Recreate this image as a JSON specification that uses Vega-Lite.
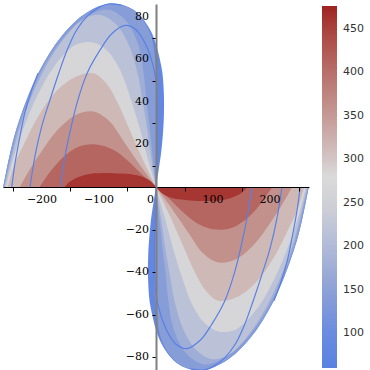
{
  "$schema": "https://vega.github.io/schema/vega-lite/v6.json",
  "width": 306,
  "height": 366,
  "autosize": {"type": "none"},
  "padding": {"left": 3, "top": 4, "right": 61, "bottom": 0},
  "config": {"view": {"stroke": null}},
  "datasets": {
    "shapes": [
      {"s":"U8","lv":85,"x":0,"y":0},{"s":"U8","lv":85,"x":9.4,"y":17},{"s":"U8","lv":85,"x":13.7,"y":32.2},{"s":"U8","lv":85,"x":13.6,"y":45.3},{"s":"U8","lv":85,"x":9.4,"y":56.7},{"s":"U8","lv":85,"x":-9.7,"y":73.7},{"s":"U8","lv":85,"x":-40.2,"y":83.5},{"s":"U8","lv":85,"x":-78.5,"y":86.3},{"s":"U8","lv":85,"x":-121.3,"y":82.1},{"s":"U8","lv":85,"x":-165,"y":71.2},{"s":"U8","lv":85,"x":-206.3,"y":53.7},{"s":"U8","lv":85,"x":-241.8,"y":29.9},{"s":"U8","lv":85,"x":-256.2,"y":15.7},{"s":"U8","lv":85,"x":-268,"y":0},
      {"s":"L8","lv":85,"x":0,"y":0},{"s":"L8","lv":85,"x":-9.4,"y":-17},{"s":"L8","lv":85,"x":-13.7,"y":-32.2},{"s":"L8","lv":85,"x":-13.6,"y":-45.3},{"s":"L8","lv":85,"x":-9.4,"y":-56.7},{"s":"L8","lv":85,"x":9.7,"y":-73.7},{"s":"L8","lv":85,"x":40.2,"y":-83.5},{"s":"L8","lv":85,"x":78.5,"y":-86.3},{"s":"L8","lv":85,"x":121.3,"y":-82.1},{"s":"L8","lv":85,"x":165,"y":-71.2},{"s":"L8","lv":85,"x":206.3,"y":-53.7},{"s":"L8","lv":85,"x":241.8,"y":-29.9},{"s":"L8","lv":85,"x":256.2,"y":-15.7},{"s":"L8","lv":85,"x":268,"y":0},
      {"s":"U7","lv":140,"x":0,"y":0},{"s":"U7","lv":140,"x":1.5,"y":17},{"s":"U7","lv":140,"x":3,"y":32},{"s":"U7","lv":140,"x":3,"y":45},{"s":"U7","lv":140,"x":0,"y":56},{"s":"U7","lv":140,"x":-11,"y":72.8},{"s":"U7","lv":140,"x":-40.2,"y":83.3},{"s":"U7","lv":140,"x":-78.5,"y":86.1},{"s":"U7","lv":140,"x":-121.3,"y":81.9},{"s":"U7","lv":140,"x":-165,"y":71},{"s":"U7","lv":140,"x":-206,"y":53.6},{"s":"U7","lv":140,"x":-241.5,"y":29.8},{"s":"U7","lv":140,"x":-256,"y":15.6},{"s":"U7","lv":140,"x":-267.8,"y":0},
      {"s":"L7","lv":140,"x":0,"y":0},{"s":"L7","lv":140,"x":-1.5,"y":-17},{"s":"L7","lv":140,"x":-3,"y":-32},{"s":"L7","lv":140,"x":-3,"y":-45},{"s":"L7","lv":140,"x":0,"y":-56},{"s":"L7","lv":140,"x":11,"y":-72.8},{"s":"L7","lv":140,"x":40.2,"y":-83.3},{"s":"L7","lv":140,"x":78.5,"y":-86.1},{"s":"L7","lv":140,"x":121.3,"y":-81.9},{"s":"L7","lv":140,"x":165,"y":-71},{"s":"L7","lv":140,"x":206,"y":-53.6},{"s":"L7","lv":140,"x":241.5,"y":-29.8},{"s":"L7","lv":140,"x":256,"y":-15.6},{"s":"L7","lv":140,"x":267.8,"y":0},
      {"s":"U6b","lv":175,"x":0,"y":0},{"s":"U6b","lv":175,"x":-6,"y":15},{"s":"U6b","lv":175,"x":-12,"y":30},{"s":"U6b","lv":175,"x":-17,"y":41},{"s":"U6b","lv":175,"x":-21,"y":52},{"s":"U6b","lv":175,"x":-30,"y":66},{"s":"U6b","lv":175,"x":-52,"y":78},{"s":"U6b","lv":175,"x":-85,"y":83.5},{"s":"U6b","lv":175,"x":-125,"y":79.5},{"s":"U6b","lv":175,"x":-166,"y":69},{"s":"U6b","lv":175,"x":-206,"y":52},{"s":"U6b","lv":175,"x":-240,"y":29},{"s":"U6b","lv":175,"x":-254,"y":15},{"s":"U6b","lv":175,"x":-266.5,"y":0},
      {"s":"L6b","lv":175,"x":0,"y":0},{"s":"L6b","lv":175,"x":6,"y":-15},{"s":"L6b","lv":175,"x":12,"y":-30},{"s":"L6b","lv":175,"x":17,"y":-41},{"s":"L6b","lv":175,"x":21,"y":-52},{"s":"L6b","lv":175,"x":30,"y":-66},{"s":"L6b","lv":175,"x":52,"y":-78},{"s":"L6b","lv":175,"x":85,"y":-83.5},{"s":"L6b","lv":175,"x":125,"y":-79.5},{"s":"L6b","lv":175,"x":166,"y":-69},{"s":"L6b","lv":175,"x":206,"y":-52},{"s":"L6b","lv":175,"x":240,"y":-29},{"s":"L6b","lv":175,"x":254,"y":-15},{"s":"L6b","lv":175,"x":266.5,"y":0},
      {"s":"U6","lv":215,"x":0,"y":0},{"s":"U6","lv":215,"x":-9,"y":15},{"s":"U6","lv":215,"x":-17,"y":30},{"s":"U6","lv":215,"x":-24,"y":41},{"s":"U6","lv":215,"x":-32,"y":53},{"s":"U6","lv":215,"x":-48,"y":67},{"s":"U6","lv":215,"x":-72,"y":77},{"s":"U6","lv":215,"x":-100,"y":81},{"s":"U6","lv":215,"x":-130,"y":78.5},{"s":"U6","lv":215,"x":-168,"y":67.5},{"s":"U6","lv":215,"x":-205,"y":50.5},{"s":"U6","lv":215,"x":-238,"y":28.5},{"s":"U6","lv":215,"x":-252,"y":15},{"s":"U6","lv":215,"x":-265.5,"y":0},
      {"s":"L6","lv":215,"x":0,"y":0},{"s":"L6","lv":215,"x":9,"y":-15},{"s":"L6","lv":215,"x":17,"y":-30},{"s":"L6","lv":215,"x":24,"y":-41},{"s":"L6","lv":215,"x":32,"y":-53},{"s":"L6","lv":215,"x":48,"y":-67},{"s":"L6","lv":215,"x":72,"y":-77},{"s":"L6","lv":215,"x":100,"y":-81},{"s":"L6","lv":215,"x":130,"y":-78.5},{"s":"L6","lv":215,"x":168,"y":-67.5},{"s":"L6","lv":215,"x":205,"y":-50.5},{"s":"L6","lv":215,"x":238,"y":-28.5},{"s":"L6","lv":215,"x":252,"y":-15},{"s":"L6","lv":215,"x":265.5,"y":0},
      {"s":"U5","lv":265,"x":0,"y":0},{"s":"U5","lv":265,"x":-15,"y":14},{"s":"U5","lv":265,"x":-30,"y":29},{"s":"U5","lv":265,"x":-45,"y":42},{"s":"U5","lv":265,"x":-63,"y":55},{"s":"U5","lv":265,"x":-85,"y":64},{"s":"U5","lv":265,"x":-110,"y":68},{"s":"U5","lv":265,"x":-140,"y":67},{"s":"U5","lv":265,"x":-175,"y":58},{"s":"U5","lv":265,"x":-208,"y":43},{"s":"U5","lv":265,"x":-236,"y":25},{"s":"U5","lv":265,"x":-252,"y":12},{"s":"U5","lv":265,"x":-263,"y":0},
      {"s":"L5","lv":265,"x":0,"y":0},{"s":"L5","lv":265,"x":15,"y":-14},{"s":"L5","lv":265,"x":30,"y":-29},{"s":"L5","lv":265,"x":45,"y":-42},{"s":"L5","lv":265,"x":63,"y":-55},{"s":"L5","lv":265,"x":85,"y":-64},{"s":"L5","lv":265,"x":110,"y":-68},{"s":"L5","lv":265,"x":140,"y":-67},{"s":"L5","lv":265,"x":175,"y":-58},{"s":"L5","lv":265,"x":208,"y":-43},{"s":"L5","lv":265,"x":236,"y":-25},{"s":"L5","lv":265,"x":252,"y":-12},{"s":"L5","lv":265,"x":263,"y":0},
      {"s":"U4","lv":315,"x":0,"y":0},{"s":"U4","lv":315,"x":-25,"y":14},{"s":"U4","lv":315,"x":-48,"y":28},{"s":"U4","lv":315,"x":-68,"y":40},{"s":"U4","lv":315,"x":-88,"y":49},{"s":"U4","lv":315,"x":-110,"y":53.5},{"s":"U4","lv":315,"x":-140,"y":52},{"s":"U4","lv":315,"x":-175,"y":45},{"s":"U4","lv":315,"x":-207,"y":33},{"s":"U4","lv":315,"x":-232,"y":20},{"s":"U4","lv":315,"x":-249,"y":10},{"s":"U4","lv":315,"x":-260,"y":0},
      {"s":"L4","lv":315,"x":0,"y":0},{"s":"L4","lv":315,"x":25,"y":-14},{"s":"L4","lv":315,"x":48,"y":-28},{"s":"L4","lv":315,"x":68,"y":-40},{"s":"L4","lv":315,"x":88,"y":-49},{"s":"L4","lv":315,"x":110,"y":-53.5},{"s":"L4","lv":315,"x":140,"y":-52},{"s":"L4","lv":315,"x":175,"y":-45},{"s":"L4","lv":315,"x":207,"y":-33},{"s":"L4","lv":315,"x":232,"y":-20},{"s":"L4","lv":315,"x":249,"y":-10},{"s":"L4","lv":315,"x":260,"y":0},
      {"s":"U3","lv":360,"x":0,"y":0},{"s":"U3","lv":360,"x":-30,"y":11},{"s":"U3","lv":360,"x":-58,"y":22},{"s":"U3","lv":360,"x":-82,"y":31},{"s":"U3","lv":360,"x":-110,"y":35.5},{"s":"U3","lv":360,"x":-140,"y":34},{"s":"U3","lv":360,"x":-172,"y":27},{"s":"U3","lv":360,"x":-200,"y":17},{"s":"U3","lv":360,"x":-222,"y":8},{"s":"U3","lv":360,"x":-239,"y":0},
      {"s":"L3","lv":360,"x":0,"y":0},{"s":"L3","lv":360,"x":30,"y":-11},{"s":"L3","lv":360,"x":58,"y":-22},{"s":"L3","lv":360,"x":82,"y":-31},{"s":"L3","lv":360,"x":110,"y":-35.5},{"s":"L3","lv":360,"x":140,"y":-34},{"s":"L3","lv":360,"x":172,"y":-27},{"s":"L3","lv":360,"x":200,"y":-17},{"s":"L3","lv":360,"x":222,"y":-8},{"s":"L3","lv":360,"x":239,"y":0},
      {"s":"U2","lv":410,"x":0,"y":0},{"s":"U2","lv":410,"x":-25,"y":6},{"s":"U2","lv":410,"x":-50,"y":12.5},{"s":"U2","lv":410,"x":-75,"y":17.5},{"s":"U2","lv":410,"x":-105,"y":20},{"s":"U2","lv":410,"x":-135,"y":19},{"s":"U2","lv":410,"x":-163,"y":14},{"s":"U2","lv":410,"x":-186,"y":7},{"s":"U2","lv":410,"x":-204,"y":0},
      {"s":"L2","lv":410,"x":0,"y":0},{"s":"L2","lv":410,"x":25,"y":-6},{"s":"L2","lv":410,"x":50,"y":-12.5},{"s":"L2","lv":410,"x":75,"y":-17.5},{"s":"L2","lv":410,"x":105,"y":-20},{"s":"L2","lv":410,"x":135,"y":-19},{"s":"L2","lv":410,"x":163,"y":-14},{"s":"L2","lv":410,"x":186,"y":-7},{"s":"L2","lv":410,"x":204,"y":0},
      {"s":"U1","lv":460,"x":0,"y":0},{"s":"U1","lv":460,"x":-10,"y":2.8},{"s":"U1","lv":460,"x":-28,"y":5.2},{"s":"U1","lv":460,"x":-60,"y":6.3},{"s":"U1","lv":460,"x":-95,"y":6.6},{"s":"U1","lv":460,"x":-120,"y":6},{"s":"U1","lv":460,"x":-140,"y":4.2},{"s":"U1","lv":460,"x":-152,"y":2.3},{"s":"U1","lv":460,"x":-160,"y":0},
      {"s":"L1","lv":460,"x":0,"y":0},{"s":"L1","lv":460,"x":10,"y":-2.8},{"s":"L1","lv":460,"x":28,"y":-5.2},{"s":"L1","lv":460,"x":60,"y":-6.3},{"s":"L1","lv":460,"x":95,"y":-6.6},{"s":"L1","lv":460,"x":120,"y":-6},{"s":"L1","lv":460,"x":140,"y":-4.2},{"s":"L1","lv":460,"x":152,"y":-2.3},{"s":"L1","lv":460,"x":160,"y":0}
    ],
    "lines": [
      {"c":"A","x":-168,"y":0},{"c":"A","x":-160,"y":14},{"c":"A","x":-150,"y":27},{"c":"A","x":-137,"y":41},{"c":"A","x":-120,"y":54},{"c":"A","x":-98,"y":64.5},{"c":"A","x":-78,"y":72},{"c":"A","x":-54,"y":76},{"c":"A","x":-35,"y":74},{"c":"A","x":-18,"y":67},{"c":"A","x":-5,"y":57},{"c":"A","x":1,"y":48},{"c":"A","x":2.5,"y":35},{"c":"A","x":2,"y":20},{"c":"A","x":1,"y":8},{"c":"A","x":0,"y":0},
      {"c":"B","x":-221,"y":0},{"c":"B","x":-212,"y":15},{"c":"B","x":-200,"y":29},{"c":"B","x":-186,"y":41},{"c":"B","x":-170,"y":54},{"c":"B","x":-155,"y":65},{"c":"B","x":-139,"y":74},{"c":"B","x":-120,"y":80.5},{"c":"B","x":-100,"y":84.5},{"c":"B","x":-84,"y":86.1},{"c":"B","x":-60,"y":85.5},
      {"c":"C","x":-253,"y":0},{"c":"C","x":-248,"y":10},{"c":"C","x":-240,"y":22},{"c":"C","x":-230,"y":35},{"c":"C","x":-220,"y":44},{"c":"C","x":-207,"y":53.5},
      {"c":"A2","x":168,"y":0},{"c":"A2","x":160,"y":-14},{"c":"A2","x":150,"y":-27},{"c":"A2","x":137,"y":-41},{"c":"A2","x":120,"y":-54},{"c":"A2","x":98,"y":-64.5},{"c":"A2","x":78,"y":-72},{"c":"A2","x":54,"y":-76},{"c":"A2","x":35,"y":-74},{"c":"A2","x":18,"y":-67},{"c":"A2","x":5,"y":-57},{"c":"A2","x":-1,"y":-48},{"c":"A2","x":-2.5,"y":-35},{"c":"A2","x":-2,"y":-20},{"c":"A2","x":-1,"y":-8},{"c":"A2","x":0,"y":0},
      {"c":"B2","x":221,"y":0},{"c":"B2","x":212,"y":-15},{"c":"B2","x":200,"y":-29},{"c":"B2","x":186,"y":-41},{"c":"B2","x":170,"y":-54},{"c":"B2","x":155,"y":-65},{"c":"B2","x":139,"y":-74},{"c":"B2","x":120,"y":-80.5},{"c":"B2","x":100,"y":-84.5},{"c":"B2","x":84,"y":-86.1},{"c":"B2","x":60,"y":-85.5},
      {"c":"C2","x":253,"y":0},{"c":"C2","x":248,"y":-10},{"c":"C2","x":240,"y":-22},{"c":"C2","x":230,"y":-35},{"c":"C2","x":220,"y":-44},{"c":"C2","x":207,"y":-53.5}
    ],
    "xlab": [{"v":-200,"t":"−200"},{"v":-100,"t":"−100"},{"v":100,"t":"100"},{"v":200,"t":"200"}],
    "zlab": [{"v":0,"t":"0"}],
    "ylab": [{"v":80,"t":"80"},{"v":60,"t":"60"},{"v":40,"t":"40"},{"v":20,"t":"20"},{"v":-20,"t":"−20"},{"v":-40,"t":"−40"},{"v":-60,"t":"−60"},{"v":-80,"t":"−80"}]
  },
  "layer": [
    {
      "data": {"name": "shapes"},
      "mark": {"type": "line", "filled": true, "interpolate": "catmull-rom"},
      "encoding": {
        "x": {"field": "x", "type": "quantitative", "scale": {"domain": [-268.4, 268.4], "nice": false, "zero": false},
          "axis": {"orient": "bottom", "offset": -183, "title": null, "zindex": 2, "grid": false, "labels": false,
            "values": [-250,-200,-150,-100,-50,0,50,100,150,200,250],
            "domainColor": "#000", "domainWidth": 1, "tickColor": "#000", "tickSize": 4}},
        "y": {"field": "y", "type": "quantitative", "scale": {"domain": [-86.1, 86.1], "nice": false, "zero": false},
          "axis": {"orient": "left", "offset": -153, "title": null, "zindex": 2, "grid": false, "labels": false,
            "values": [-80,-70,-60,-50,-40,-30,-20,-10,10,20,30,40,50,60,70,80],
            "domainColor": "#808080", "domainWidth": 2, "tickColor": "#000", "tickSize": 4}},
        "color": {"field": "lv", "type": "quantitative",
          "scale": {"domain": [60, 100, 150, 200, 250, 280, 300, 350, 400, 450, 476],
            "range": ["#5a82e2", "#6a8ce0", "#8da1d6", "#b1bbd8", "#d1d1d6", "#dadada", "#d3c6c5", "#c59995", "#b86f6a", "#aa433e", "#9e2220"],
            "interpolate": "rgb"},
          "legend": {"orient": "none", "legendX": 319, "legendY": 2, "direction": "vertical", "title": null,
            "gradientLength": 362, "gradientThickness": 15, "gradientStrokeWidth": 0,
            "values": [100, 150, 200, 250, 300, 350, 400, 450],
            "labelFont": "DejaVu Sans", "labelFontSize": 11, "labelColor": "#333", "labelOffset": 6}},
        "detail": {"field": "s"},
        "order": {"value": null}
      }
    },
    {
      "data": {"name": "lines"},
      "mark": {"type": "line", "color": "#5a80e4", "strokeWidth": 1.2, "interpolate": "catmull-rom"},
      "encoding": {
        "x": {"field": "x", "type": "quantitative"},
        "y": {"field": "y", "type": "quantitative"},
        "detail": {"field": "c"},
        "order": {"value": null}
      }
    },
    {
      "data": {"name": "xlab"},
      "mark": {"type": "text", "align": "center", "baseline": "middle", "dy": 13, "font": "DejaVu Serif", "fontSize": 11, "color": "#000"},
      "encoding": {
        "x": {"field": "v", "type": "quantitative"},
        "y": {"datum": 0, "type": "quantitative"},
        "text": {"field": "t"}
      }
    },
    {
      "data": {"name": "zlab"},
      "mark": {"type": "text", "align": "right", "baseline": "middle", "dy": 13, "dx": -2, "font": "DejaVu Serif", "fontSize": 11, "color": "#000"},
      "encoding": {
        "x": {"field": "v", "type": "quantitative"},
        "y": {"datum": 0, "type": "quantitative"},
        "text": {"field": "t"}
      }
    },
    {
      "data": {"name": "ylab"},
      "mark": {"type": "text", "align": "right", "baseline": "middle", "dx": -7, "font": "DejaVu Serif", "fontSize": 11, "color": "#000"},
      "encoding": {
        "x": {"datum": 0, "type": "quantitative"},
        "y": {"field": "v", "type": "quantitative"},
        "text": {"field": "t"}
      }
    }
  ]
}
